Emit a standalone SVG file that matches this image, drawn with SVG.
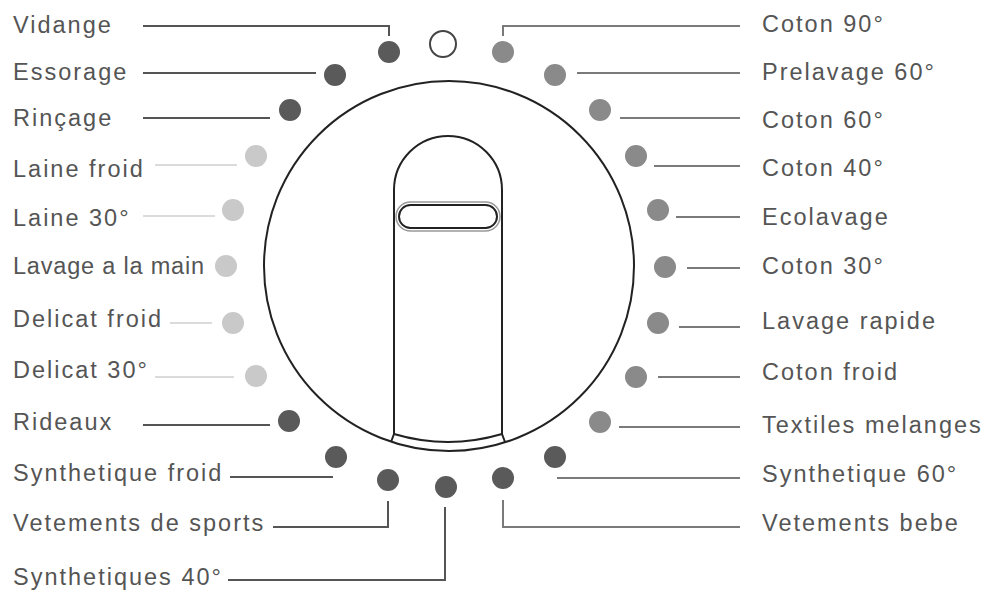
<svg xmlns="http://www.w3.org/2000/svg" width="998" height="592" viewBox="0 0 998 592">
<style>
text{font-family:"Liberation Sans","DejaVu Sans",sans-serif;font-size:23.5px;letter-spacing:2px;fill:#555}
.dk{fill:#5a5a5a}.md{fill:#8a8a8a}.lt{fill:#c9c9c9}
.ld{fill:none;stroke:#555;stroke-width:2}
.lm{fill:none;stroke:#7a7a7a;stroke-width:2}
.ll{fill:none;stroke:#cfcfcf;stroke-width:1.6}
.out{fill:none;stroke:#222;stroke-width:2}
</style>
<rect width="998" height="592" fill="#fff"/>
<g id="dial">
<circle class="out" cx="449" cy="266" r="185"/>
<path class="out" d="M394 434 V190 A54 54 0 0 1 502 190 V434"/>
<path class="out" d="M394 434 Q448 450 502 434"/>
<path class="out" d="M394 434 L391 442 M502 434 L505 442"/>
<rect x="396" y="202" width="104" height="29" rx="14.5" fill="none" stroke="#999" stroke-width="1.5"/>
<rect x="399" y="205" width="98" height="23" rx="11.5" fill="none" stroke="#222" stroke-width="2"/>
<circle cx="443" cy="44" r="13" fill="none" stroke="#444" stroke-width="2"/>
</g>
<g id="connectors">
<path class="ld" d="M143 26 H389 V36"/>
<path class="ld" d="M143 73 H316"/>
<path class="ld" d="M143 118 H270"/>
<path class="ll" d="M155 165 H237"/>
<path class="ll" d="M143 216 H215"/>
<path class="ll" d="M170 323 H212"/>
<path class="ll" d="M155 377 H234"/>
<path class="ld" d="M143 425 H270"/>
<path class="ld" d="M230 477 H333"/>
<path class="ld" d="M273 527 H388 V501"/>
<path class="ld" d="M228 580 H445 V507"/>
<path class="lm" d="M503 36 V26 H740"/>
<path class="lm" d="M577 73 H740"/>
<path class="lm" d="M620 118 H740"/>
<path class="lm" d="M654 166 H740"/>
<path class="lm" d="M676 217 H740"/>
<path class="lm" d="M687 268 H740"/>
<path class="lm" d="M679 327 H740"/>
<path class="lm" d="M658 377 H740"/>
<path class="lm" d="M619 427 H740"/>
<path class="lm" d="M557 478 H740"/>
<path class="lm" d="M503 500 V527 H740"/>
</g>
<g id="n-vidange"><circle class="dk" cx="389" cy="52" r="11"/><text x="13" y="33">Vidange</text></g>
<g id="n-essorage"><circle class="dk" cx="335" cy="75" r="11"/><text x="13" y="80">Essorage</text></g>
<g id="n-rincage"><circle class="dk" cx="290" cy="110" r="11"/><text x="13" y="126">Rinçage</text></g>
<g id="n-laine-froid"><circle class="lt" cx="256" cy="156" r="11"/><text x="13" y="177">Laine froid</text></g>
<g id="n-laine-30"><circle class="lt" cx="233" cy="210" r="11"/><text x="13" y="226">Laine 30°</text></g>
<g id="n-lavage-main"><circle class="lt" cx="226" cy="266" r="11"/><text x="13" y="274" style="letter-spacing:0.8px">Lavage a la main</text></g>
<g id="n-delicat-froid"><circle class="lt" cx="233" cy="323" r="11"/><text x="13" y="327">Delicat froid</text></g>
<g id="n-delicat-30"><circle class="lt" cx="256" cy="376" r="11"/><text x="13" y="378">Delicat 30°</text></g>
<g id="n-rideaux"><circle class="dk" cx="289" cy="421" r="11"/><text x="13" y="430">Rideaux</text></g>
<g id="n-synth-froid"><circle class="dk" cx="336" cy="457" r="11"/><text x="13" y="481">Synthetique froid</text></g>
<g id="n-vet-sports"><circle class="dk" cx="388" cy="480" r="11"/><text x="13" y="531">Vetements de sports</text></g>
<g id="n-synth-40"><circle class="dk" cx="446" cy="487" r="11"/><text x="13" y="585">Synthetiques 40°</text></g>
<g id="n-coton-90"><circle class="md" cx="503" cy="52" r="11"/><text x="762" y="32">Coton 90°</text></g>
<g id="n-prelavage-60"><circle class="md" cx="555" cy="75" r="11"/><text x="762" y="80">Prelavage 60°</text></g>
<g id="n-coton-60"><circle class="md" cx="600" cy="110" r="11"/><text x="762" y="128">Coton 60°</text></g>
<g id="n-coton-40"><circle class="md" cx="636" cy="156" r="11"/><text x="762" y="176">Coton 40°</text></g>
<g id="n-ecolavage"><circle class="md" cx="658" cy="210" r="11"/><text x="762" y="225">Ecolavage</text></g>
<g id="n-coton-30"><circle class="md" cx="665" cy="267" r="11"/><text x="762" y="274">Coton 30°</text></g>
<g id="n-lavage-rapide"><circle class="md" cx="658" cy="323" r="11"/><text x="762" y="329">Lavage rapide</text></g>
<g id="n-coton-froid"><circle class="md" cx="636" cy="377" r="11"/><text x="762" y="380">Coton froid</text></g>
<g id="n-textiles"><circle class="md" cx="600" cy="422" r="11"/><text x="762" y="433">Textiles melanges</text></g>
<g id="n-synth-60"><circle class="dk" cx="555" cy="457" r="11"/><text x="762" y="482">Synthetique 60°</text></g>
<g id="n-vet-bebe"><circle class="dk" cx="503" cy="478" r="11"/><text x="762" y="531">Vetements bebe</text></g>
</svg>
